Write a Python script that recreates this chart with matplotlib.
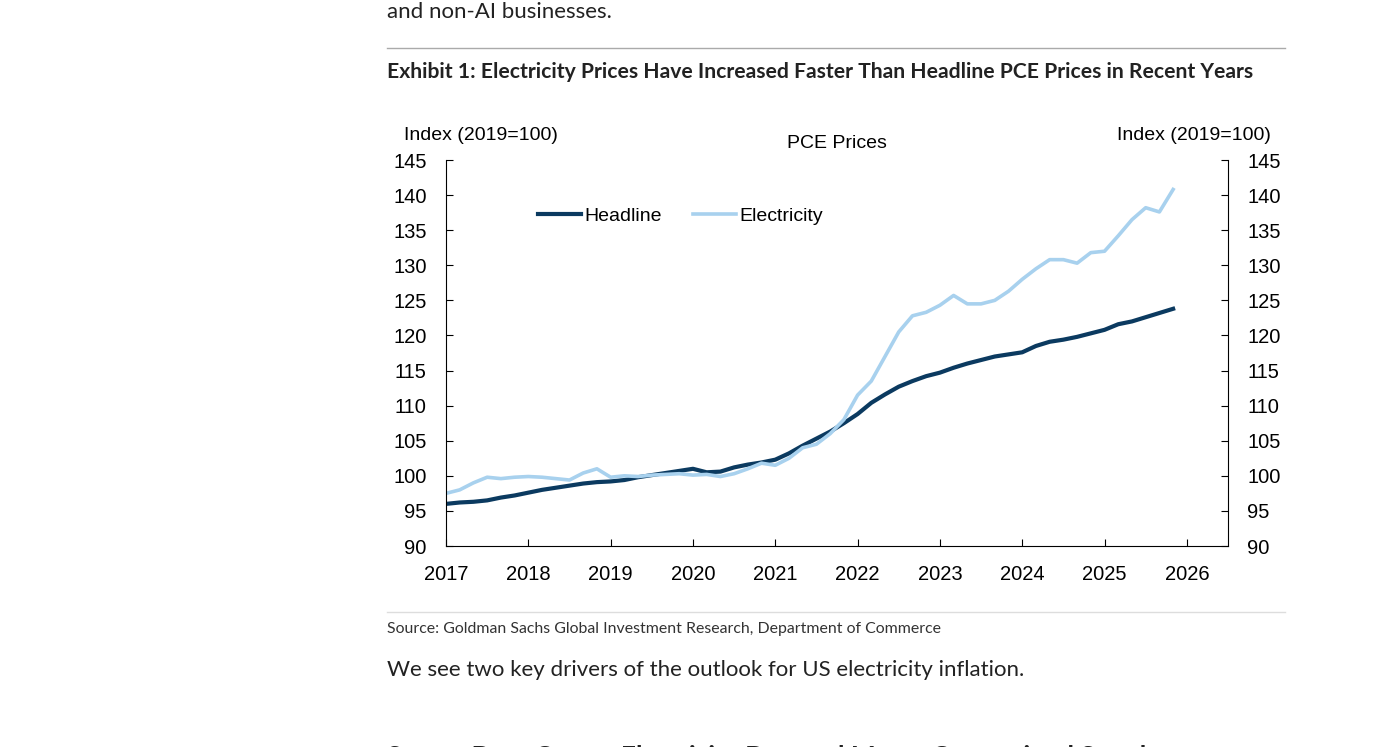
import numpy as np
import matplotlib
matplotlib.use("Agg")
import matplotlib.pyplot as plt

headline = [96.0, 96.2, 96.3, 96.5, 96.9, 97.2,
            97.6, 98.0, 98.3, 98.6, 98.9, 99.1,
            99.2, 99.4, 99.8, 100.1, 100.4, 100.7,
            101.0, 100.5, 100.6, 101.2, 101.6, 101.9,
            102.3, 103.2, 104.3, 105.3, 106.3, 107.5,
            108.8, 110.4, 111.6, 112.7, 113.5, 114.2,
            114.7, 115.4, 116.0, 116.5, 117.0, 117.3,
            117.6, 118.5, 119.1, 119.4, 119.8, 120.3,
            120.8, 121.6, 122.0, 122.6, 123.2, 123.8]
electricity = [97.5, 98.0, 99.0, 99.8, 99.6, 99.8,
               99.9, 99.8, 99.6, 99.4, 100.4, 101.0,
               99.8, 100.0, 99.9, 100.1, 100.2, 100.3,
               100.1, 100.2, 99.9, 100.3, 101.0, 101.8,
               101.5, 102.5, 104.0, 104.5, 106.0, 108.0,
               111.5, 113.5, 117.0, 120.5, 122.8, 123.3,
               124.3, 125.7, 124.5, 124.5, 125.0, 126.3,
               128.0, 129.5, 130.8, 130.8, 130.3, 131.8,
               132.0, 134.2, 136.5, 138.2, 137.6, 140.8]
dates = 2017 + np.arange(len(headline)) / 6.0
years = list(range(2017, 2027))
yticks = list(range(90, 146, 5))

W, H = 1400, 747
fig = plt.figure(figsize=(14, 7.47), dpi=100)
ax = fig.add_axes([446 / W, 1 - 546 / H, (1228 - 446) / W, (546 - 160) / H])
ax.plot(dates, headline, color="#0b3a60", lw=3, label="Headline")
ax.plot(dates, electricity, color="#a8d1ee", lw=2.6, label="Electricity")
ax.set_xlim(2017, 2026.5)
ax.set_ylim(90, 145)
ax.set_xticks(years)
ax.set_yticks(yticks)
f = "Liberation Sans"
ax.set_xticklabels([str(y) for y in years], fontsize=14.5, family=f)
ax.set_yticklabels([str(y) for y in yticks], fontsize=14.5, family=f)
ax.tick_params(axis="y", which="both", left=True, right=True, labelright=True,
               direction="in", length=5, pad=14)
ax.tick_params(axis="x", direction="in", length=5, pad=14)
ax.spines["top"].set_visible(False)
ax.legend(loc="center left", bbox_to_anchor=(0.095, 0.855), ncol=2, frameon=False,
          prop={"family": f, "size": 14}, handlelength=2.2, columnspacing=1.6, handletextpad=0.2)
fig.text(404 / W, 1 - 135 / H, "Index (2019=100)", fontsize=14, family=f, va="center")
fig.text(1271 / W, 1 - 135 / H, "Index (2019=100)", fontsize=14, family=f, va="center", ha="right")
fig.text(837 / W, 1 - 143 / H, "PCE Prices", fontsize=14, family=f, va="center", ha="center")

fig.text(387 / W, 1 - 12 / H, "and non-AI businesses.", fontsize=16, family="Lato", va="center", color="#222")
fig.add_artist(plt.Line2D([387 / W, 1285 / W], [1 - 48 / H] * 2, color="#aaaaaa", lw=1))
fig.text(387 / W, 1 - 72 / H, "Exhibit 1: Electricity Prices Have Increased Faster Than Headline PCE Prices in Recent Years",
         fontsize=15.2, family="Lato", weight="bold", va="center", color="#222")
fig.add_artist(plt.Line2D([387 / W, 1285 / W], [1 - 612 / H] * 2, color="#dddddd", lw=1))
fig.text(387 / W, 1 - 629 / H, "Source: Goldman Sachs Global Investment Research, Department of Commerce",
         fontsize=11.4, family="Lato", va="center", color="#333")
fig.text(387 / W, 1 - 670 / H, "We see two key drivers of the outlook for US electricity inflation.",
         fontsize=16, family="Lato", va="center", color="#222")
fig.text(387 / W, 1 - 757 / H, "Strong Data Center Electricity Demand Meets Constrained Supply",
         fontsize=19, family="Lato", weight="bold", va="center", color="#222")

fig.savefig("out.png", dpi=100)
